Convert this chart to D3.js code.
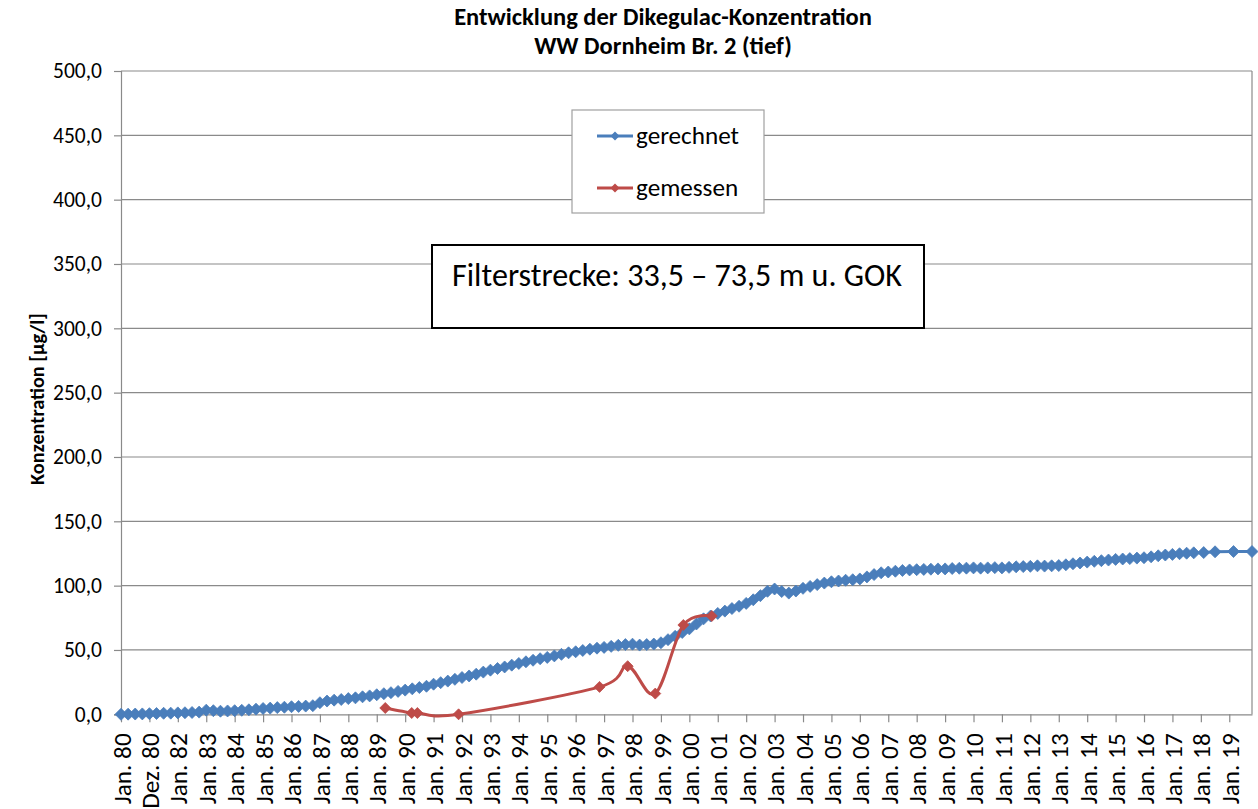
<!DOCTYPE html>
<html><head><meta charset="utf-8">
<script src="https://cdn.jsdelivr.net/npm/d3@7"></script>
<style>body{margin:0;background:#fff}svg{display:block}</style>
</head><body><svg id="c" width="1258" height="809"></svg>
<script>
// ---------------- data ----------------
const titleLines = ["Entwicklung der Dikegulac-Konzentration", "WW Dornheim Br. 2 (tief)"];
const yAxisTitle = "Konzentration [µg/l]";
const yTicks = [0, 50, 100, 150, 200, 250, 300, 350, 400, 450, 500];
const xTickLabels = ["Jan. 80","Dez. 80","Jan. 82","Jan. 83","Jan. 84","Jan. 85","Jan. 86","Jan. 87","Jan. 88","Jan. 89",
  "Jan. 90","Jan. 91","Jan. 92","Jan. 93","Jan. 94","Jan. 95","Jan. 96","Jan. 97","Jan. 98","Jan. 99",
  "Jan. 00","Jan. 01","Jan. 02","Jan. 03","Jan. 04","Jan. 05","Jan. 06","Jan. 07","Jan. 08","Jan. 09",
  "Jan. 10","Jan. 11","Jan. 12","Jan. 13","Jan. 14","Jan. 15","Jan. 16","Jan. 17","Jan. 18","Jan. 19"];
const xTickPositions = [1980,1981,1982,1983,1984,1985,1986,1987,1988,1989,1990,1991,1992,1993,1994,1995,1996,1997,1998,1999,
  2000,2001,2002,2003,2004,2005,2006,2007,2008,2009,2010,2011,2012,2013,2014,2015,2016,2017,2018,2019];
const xDomainEnd = 2019.8;

const seriesNames = ["gerechnet", "gemessen"];
// "gerechnet": quarterly readings from Jan. 80 to Oct. 17
const calcStart = 1980, calcStep = 0.25;
const calcValues = [
  0.0, 0.1, 0.2, 0.3,   0.5, 0.6, 0.8, 0.9,   1.1, 1.2, 1.4, 1.7,   3.2, 2.8, 2.4, 2.6,
  2.8, 3.1, 3.5, 4.0,   4.5, 4.8, 5.2, 5.5,   5.9, 6.1, 6.4, 6.7,   9.0, 10.3, 11.0, 11.5,
  12.2, 12.8, 13.6, 14.3,   15.2, 16.0, 16.8, 17.8,   18.8, 19.8, 20.8, 21.8,   23.4, 24.6, 25.8, 27.2,
  28.6, 29.8, 31.2, 32.8,   34.3, 35.6, 36.8, 38.2,   39.5, 40.8, 42.0, 43.2,   44.2, 45.4, 46.6, 47.8,
  48.6, 49.6, 50.6, 51.4,   52.0, 52.8, 53.6, 54.2,   54.5, 53.8, 54.2, 54.6,   55.6, 58.0, 60.6, 63.6,
  66.4, 70.2, 74.2, 76.4,   78.4, 80.2, 82.2, 84.0,   86.2, 89.0, 92.2, 95.6,   97.4, 95.4, 94.2, 95.8,
  97.9, 99.4, 100.8, 102.0,   103.0, 103.6, 104.2, 104.6,   105.2, 106.8, 108.6, 110.0,   110.6, 111.2, 111.8, 112.2,
  112.4, 112.6, 112.8, 113.0,   113.0, 113.3, 113.5, 113.6,   113.8, 113.6, 113.8, 114.0,   113.8, 114.2, 114.6, 114.8,
  115.0, 115.4, 115.2, 115.4,   115.6, 116.2, 117.0, 117.6,   118.3, 118.9, 119.4, 119.9,   120.4, 120.7, 121.0, 121.4,
  121.7, 122.4, 123.2, 123.8,   124.3, 124.8, 125.2, 125.5
];
const calcTailYears = [2018.1, 2018.5, 2019.15, 2019.8];
const calcTailValues = [125.7, 126.3, 126.5, 126.5];
// "gemessen"
const measYears = [1989.30, 1990.23, 1990.43, 1991.88, 1996.84, 1997.83, 1998.80, 1999.79, 2000.79];
const measValues = [4.9, 1.0, 1.0, 0.0, 21.3, 37.4, 16.1, 69.4, 76.4];
const boxText = "Filterstrecke: 33,5 – 73,5 m u. GOK";

// ---------------- build ----------------
const calcData = calcValues.map((v, i) => ({x: calcStart + i * calcStep, y: v}))
  .concat(calcTailYears.map((x, i) => ({x, y: calcTailValues[i]})));
const measData = measYears.map((x, i) => ({x, y: measValues[i]}));

const FONT = "Carlito, Lato, 'Open Sans', sans-serif";
const blue = "#4a7ebb", red = "#be4b48", grid = "#8a8a8a";
const svg = d3.select("#c").style("font-family", FONT);
svg.append("rect").attr("width", 1258).attr("height", 809).attr("fill", "#fff");

const L = 121, R = 1252, T = 71, B = 714.3;
const x = d3.scaleLinear().domain([1980, xDomainEnd]).range([L, R]);
const y = d3.scaleLinear().domain([0, 500]).range([B, T]);
const fmt = v => d3.format(".1f")(v).replace(".", ",");

function fit(sel, w) {
  const l = sel.node().getComputedTextLength();
  const fs = parseFloat(sel.attr("font-size"));
  sel.attr("font-size", fs * w / l);
  return fs * w / l;
}

// gridlines
svg.append("g").selectAll("line").data(yTicks.filter(d => d > 0)).join("line")
  .attr("x1", L).attr("x2", R).attr("y1", d => y(d)).attr("y2", d => y(d))
  .attr("stroke", grid).attr("stroke-width", 1.2);
// right border
svg.append("line").attr("x1", R).attr("x2", R).attr("y1", T).attr("y2", B).attr("stroke", grid).attr("stroke-width", 1.2);

// y axis
const yAxis = svg.append("g").attr("transform", `translate(${L},0)`)
  .call(d3.axisLeft(y).tickValues(yTicks).tickFormat(fmt).tickSize(7).tickPadding(12));
yAxis.select(".domain").attr("stroke", grid).attr("stroke-width", 1.2);
yAxis.selectAll(".tick line").attr("stroke", grid).attr("stroke-width", 1.2);
yAxis.selectAll("text").attr("font-family", FONT).attr("font-size", 20).attr("fill", "#000");
const tickFs = fit(yAxis.selectAll("text").filter(d => d === 500), 49);
yAxis.selectAll("text").attr("font-size", tickFs);

// x axis
const xAxis = svg.append("g").attr("transform", `translate(0,${B})`)
  .call(d3.axisBottom(x).tickValues(xTickPositions).tickFormat((d, i) => xTickLabels[i]).tickSize(8).tickSizeOuter(0));
xAxis.select(".domain").attr("stroke", grid).attr("stroke-width", 1.2);
xAxis.selectAll(".tick line").attr("stroke", grid).attr("stroke-width", 1.2);
const xl = xAxis.selectAll("text")
  .attr("font-family", FONT).attr("font-size", tickFs).attr("fill", "#000")
  .attr("text-anchor", "end").attr("transform", "rotate(-90)")
  .attr("x", -19).attr("y", 0).attr("dy", "0.36em");
const xFs = fit(xl.filter((d, i) => i === 0), 71);
xl.attr("font-size", xFs);

// y axis title
const yt = svg.append("text").attr("transform", "translate(37,399) rotate(-90)")
  .attr("text-anchor", "middle").attr("dy", "0.35em").attr("font-weight", "bold")
  .attr("font-size", 15).text(yAxisTitle);
fit(yt, 172);

// title
const t1 = svg.append("text").attr("x", 663).attr("y", 25).attr("text-anchor", "middle")
  .attr("font-weight", "bold").attr("font-size", 18).text(titleLines[0]);
const tFs = fit(t1, 418);
svg.append("text").attr("x", 663).attr("y", 54).attr("text-anchor", "middle")
  .attr("font-weight", "bold").attr("font-size", tFs).text(titleLines[1]);

// diamond
const diamond = r => `M0,${-r}L${r},0L0,${r}L${-r},0Z`;

// series gerechnet
svg.append("path").datum(calcData)
  .attr("d", d3.line().x(d => x(d.x)).y(d => y(d.y)))
  .attr("fill", "none").attr("stroke", blue).attr("stroke-width", 3);
svg.append("g").selectAll("path").data(calcData).join("path")
  .attr("transform", d => `translate(${x(d.x)},${y(d.y)})`)
  .attr("d", diamond(6)).attr("fill", blue).attr("stroke", blue).attr("stroke-width", 0.8);

// series gemessen
svg.append("path").datum(measData)
  .attr("d", d3.line().x(d => x(d.x)).y(d => y(d.y)).curve(d3.curveCardinal.tension(0)))
  .attr("fill", "none").attr("stroke", red).attr("stroke-width", 3);
svg.append("g").selectAll("path").data(measData).join("path")
  .attr("transform", d => `translate(${x(d.x)},${y(d.y)})`)
  .attr("d", diamond(5.5)).attr("fill", red).attr("stroke", red).attr("stroke-width", 0.8);

// legend
const lg = svg.append("g");
lg.append("rect").attr("x", 572).attr("y", 110).attr("width", 192).attr("height", 103)
  .attr("fill", "#fff").attr("stroke", "#a0a0a0").attr("stroke-width", 1.2);
const legY = [136, 188];
const legCol = [blue, red];
let legFs = null;
seriesNames.forEach((name, i) => {
  lg.append("line").attr("x1", 597).attr("x2", 633).attr("y1", legY[i]).attr("y2", legY[i])
    .attr("stroke", legCol[i]).attr("stroke-width", 3);
  lg.append("path").attr("transform", `translate(615,${legY[i]})`).attr("d", diamond(4.5)).attr("fill", legCol[i]);
  const tx = lg.append("text").attr("x", 636).attr("y", legY[i]).attr("dy", "0.32em")
    .attr("font-size", 20).text(name);
  if (i === 0) legFs = fit(tx, 103); else tx.attr("font-size", legFs);
});

// filter box
svg.append("rect").attr("x", 432).attr("y", 245).attr("width", 492).attr("height", 83)
  .attr("fill", "#fff").attr("stroke", "#000").attr("stroke-width", 2);
const bt = svg.append("text").attr("x", 452).attr("y", 286).attr("font-size", 24).text(boxText);
fit(bt, 450);
</script></body></html>
